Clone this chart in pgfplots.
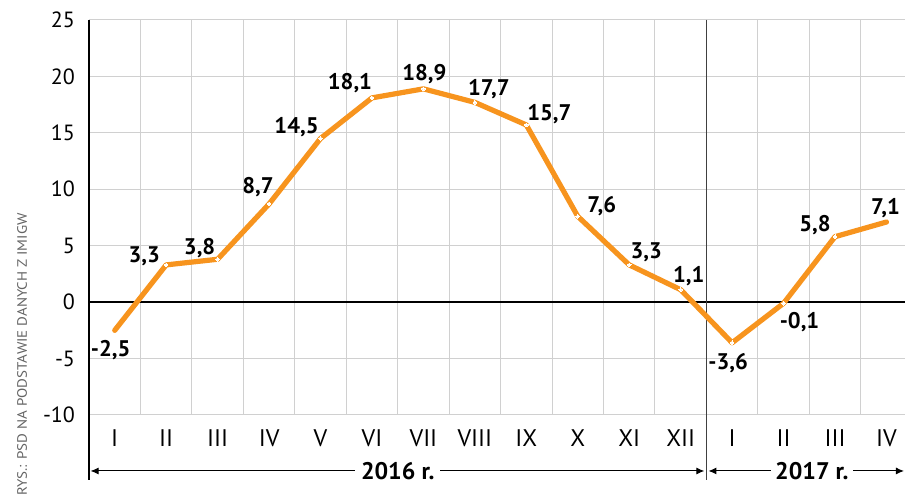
\documentclass[border=0pt]{standalone}
\usepackage{fontspec}
\setmainfont{PT Sans}
\usepackage{pgfplots}
\pgfplotsset{compat=1.18}
\usepackage{pgfplotstable}
\usetikzlibrary{arrows.meta}
\definecolor{orng}{RGB}{247,148,30}
\definecolor{grd}{RGB}{208,208,208}
\definecolor{src}{RGB}{100,100,100}

\pgfplotstableread{
x y lab dx dy
0.5 -2.5 -2,5 -4 -18
1.5 3.3 3,3 -22 10
2.5 3.8 3,8 -18 13
3.5 8.7 8,7 -11 19
4.5 14.5 14,5 -24 13
5.5 18.1 18,1 -22 16
6.5 18.9 18,9 1 16
7.5 17.7 17,7 14 15
8.5 15.7 15,7 23 12
9.5 7.6 7,6 24 12
10.5 3.3 3,3 17 14
11.5 1.1 1,1 8 15
12.5 -3.6 -3,6 -4 -19
13.5 -0.1 -0,1 16 -17
14.5 5.8 5,8 -20 13
15.5 7.1 7,1 -1 16
}\data

\begin{document}
\begin{tikzpicture}
\begin{axis}[
  scale only axis,
  width=408pt, height=197.5pt,
  xmin=0, xmax=15.86,
  ymin=-10, ymax=25,
  clip=false,
  axis line style={draw=none},
  major tick length=0pt, minor tick length=0pt,
  xtick={0.5,1.5,...,15.5},
  xticklabels={I,II,III,IV,V,VI,VII,VIII,IX,X,XI,XII,I,II,III,IV},
  minor xtick={1,2,...,15},
  xminorgrids=true, xmajorgrids=false,
  ytick={-10,-5,...,25},
  yticklabels={-10,-5,0,5,10,15,20,25},
  ymajorgrids=true,
  grid style={draw=grd, line width=0.5pt},
  minor grid style={draw=grd, line width=0.5pt},
  yticklabel style={font=\fontsize{11}{13}\selectfont, xshift=-3.5pt},
  xticklabel style={font=\fontsize{12}{14}\selectfont, yshift=-4pt},
]
\draw[black, line width=0.75pt] (axis cs:0,25) -- (axis cs:0,-15.76);
\draw[black, line width=0.75pt] (axis cs:0,0) -- (axis cs:15.86,0);
\draw[black!75, line width=0.6pt] (axis cs:12,25) -- (axis cs:12,-15.76);
\draw[black, line width=0.5pt, {Latex[length=4pt,width=3.5pt]}-{Latex[length=4pt,width=3.5pt]}] (axis cs:0.03,-14.96) -- (axis cs:11.96,-14.96);
\draw[black, line width=0.5pt, {Latex[length=4pt,width=3.5pt]}-{Latex[length=4pt,width=3.5pt]}] (axis cs:12.04,-14.96) -- (axis cs:15.84,-14.96);
\node[fill=white, inner xsep=3pt, inner ysep=1pt, font=\fontsize{12}{14}\selectfont\bfseries] at (axis cs:6,-14.96) {2016 r.};
\node[fill=white, inner xsep=2pt, inner ysep=1pt, font=\fontsize{12}{14}\selectfont\bfseries] at (axis cs:14.05,-14.96) {2017 r.};
\node[rotate=90, anchor=west, inner sep=0pt, text=src, font=\fontsize{6.8}{8}\selectfont] at (axis cs:-1.302,-17.177) {\scalebox{1.1}[1]{RYS.: PSD NA PODSTAWIE DANYCH Z IMIGW}};

\addplot[
  color=orng, line width=2.6pt, line join=round, line cap=round,
  mark=none,
  point meta=explicit symbolic,
  nodes near coords,
  visualization depends on={\thisrow{dx}\as\dx},
  visualization depends on={\thisrow{dy}\as\dy},
  nodes near coords style={anchor=center, text=black, text depth=0pt,
    font=\fontsize{11.3}{13}\selectfont\bfseries,
    xshift=\dx*0.5pt, yshift=\dy*0.5pt},
] table[x=x, y=y, meta=lab] {\data};
\addplot[
  color=white, only marks, mark=*, mark size=0.9pt, mark indices={2,...,15},
  mark options={fill=white, draw=white, line width=0pt},
] table[x=x, y=y] {\data};

\coordinate (BL) at (axis cs:-1.7298,-17.177);
\coordinate (TR) at (axis cs:15.86,26.772);
\end{axis}
\pgfresetboundingbox
\path[use as bounding box] (BL) rectangle (TR);
\end{tikzpicture}
\end{document}
